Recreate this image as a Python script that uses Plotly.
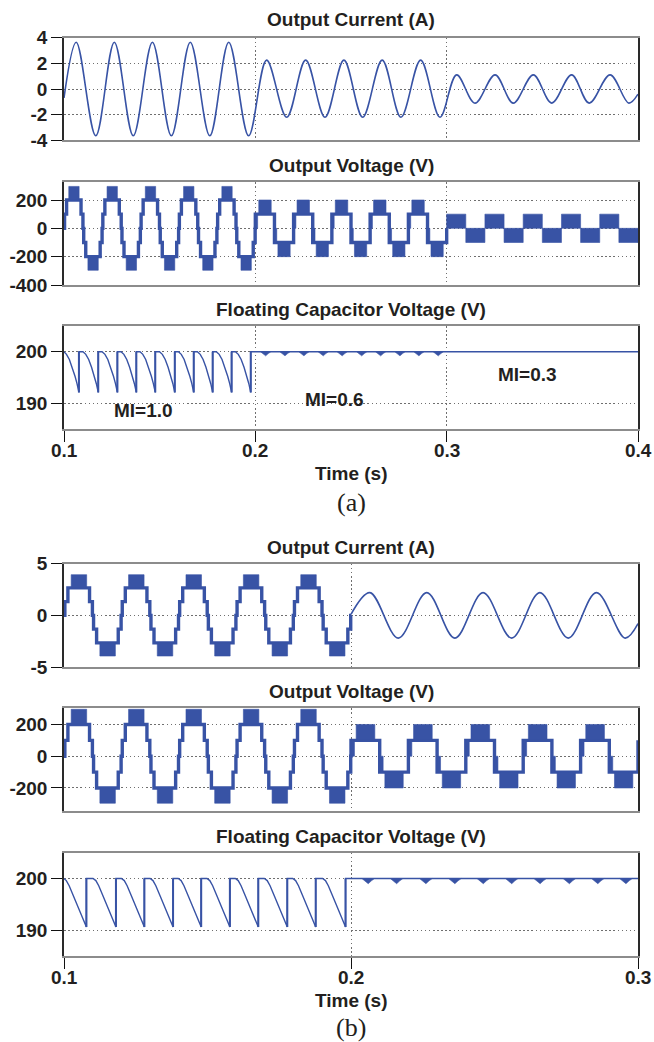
import plotly.graph_objects as go

# ======================= data =======================
# (a) output current: start value, successive extrema, end value (s, A)
cur_a_t = [0.1000, 0.1064, 0.1166, 0.1263, 0.1362, 0.1462, 0.1561, 0.1660, 0.1762,
           0.1861, 0.1965, 0.2059, 0.2164, 0.2263, 0.2364, 0.2463, 0.2561, 0.2663,
           0.2761, 0.2864, 0.2965, 0.3052, 0.3148, 0.3253, 0.3348, 0.3453, 0.3549,
           0.3653, 0.3745, 0.3854, 0.3952, 0.4000]
cur_a_v = [-0.7, 3.65, -3.65, 3.65, -3.65, 3.65, -3.65, 3.65, -3.65, 3.65, -3.65,
           2.25, -2.2, 2.25, -2.2, 2.25, -2.2, 2.25, -2.2, 2.25, -2.2,
           1.1, -1.1, 1.1, -1.1, 1.1, -1.1, 1.1, -1.1, 1.1, -1.1, -0.4]

# (b) output current after 0.2 s (sinusoidal part): start, extrema, end
cur_b_t = [0.2000, 0.2066, 0.2165, 0.2264, 0.2362, 0.2460, 0.2560, 0.2658,
           0.2757, 0.2855, 0.2955, 0.3000]
cur_b_v = [0.1, 2.2, -2.2, 2.2, -2.2, 2.2, -2.2, 2.2, -2.2, 2.2, -2.2, -0.8]

# multilevel staircase patterns (phase within one 20 ms cycle, level in steps)
cycle_period = 0.02
full_step_phase = [0.000, 0.015, 0.068, 0.445, 0.495, 0.515, 0.568, 0.945, 0.995]
full_step_level = [0, 1, 2, 1, 0, -1, -2, -1, 0]
full_blk_start = [0.125, 0.625]
full_blk_end = [0.395, 0.895]
full_blk_low = [2.0, -2.96]
full_blk_high = [2.96, -2.0]

mid_step_phase = [0.0, 0.5]
mid_step_level = [1, -1]
mid_blk_start = [0.0, 0.09, 0.5, 0.59]
mid_blk_end = [0.06, 0.415, 0.56, 0.91]
mid_blk_low = [0.0, 1.0, -1.0, -2.0]
mid_blk_high = [1.0, 2.0, 0.0, -1.0]

low_blk_start = [0.0, 0.5]
low_blk_end = [0.5, 1.0]
low_blk_low = [0.0, -1.0]
low_blk_high = [1.0, 0.0]

cyc_a_full = [0.10, 0.12, 0.14, 0.16, 0.18]
cyc_a_mid = [0.20, 0.22, 0.24, 0.26, 0.28]
cyc_a_low = [0.30, 0.32, 0.34, 0.36, 0.38]
cyc_b_full = [0.10, 0.12, 0.14, 0.16, 0.18]
cyc_b_mid = [0.20, 0.22, 0.24, 0.26, 0.28]
volt_step = 100.0   # V per level
cur_b_step = 1.33   # A per level

# floating capacitor voltage
dip_spacing = 0.01
cap_a_dip_t = [0.1078, 0.1179, 0.1279, 0.1378, 0.1477, 0.1579, 0.1678, 0.1777, 0.1876, 0.1976]
cap_a_shape_frac = [0.0, 0.2, 0.35, 0.5, 0.65, 0.8, 0.9, 1.0]
cap_a_shape_v = [200, 200, 199.5, 198.5, 197.0, 195.2, 193.8, 192.1]
cap_a_ripple_t = [0.2054, 0.2155, 0.2254, 0.2355, 0.2454, 0.2556, 0.2655, 0.2756, 0.2855, 0.2956]
cap_a_ripple_min = 199.2
cap_a_ripple_halfw = 0.0027

cap_b_dip_t = [0.1078, 0.1181, 0.1280, 0.1380, 0.1478, 0.1578, 0.1677, 0.1778, 0.1877, 0.1981]
cap_b_shape_frac = [0.0, 0.2, 0.3, 0.4, 0.55, 0.7, 0.85, 1.0]
cap_b_shape_v = [200, 200, 199.6, 198.6, 196.6, 194.6, 192.6, 190.6]
cap_b_ripple_t = [0.2060, 0.2159, 0.2261, 0.2362, 0.2461, 0.2560, 0.2659, 0.2761, 0.2860, 0.2958]
cap_b_ripple_min = 199.0
cap_b_ripple_halfw = 0.0022
ripple_off = [-1.0, -0.5, 0.0, 0.5, 1.0]
ripple_frac = [0.0, 0.45, 1.0, 0.45, 0.0]

# axis ticks
ya1_ticks = [4, 2, 0, -2, -4]
ya2_ticks = [200, 0, -200, -400]
ya3_ticks = [200, 190]
yb1_ticks = [5, 0, -5]
yb2_ticks = [200, 0, -200]
yb3_ticks = [200, 190]
xa_ticks = [0.1, 0.2, 0.3, 0.4]
xb_ticks = [0.1, 0.2, 0.3]

# ============================ helpers ======================================
W, H = 654, 1042
BLUE = '#3853a5'
TXT = '#231f20'
FONT = 'Liberation Sans, Arial, sans-serif'
FS = 19


def PX(x):
    return x / W


def PY(y):
    return 1 - y / H


def steps(cycles, phase, level, unit):
    xs, ys = [], []
    for c in cycles:
        for p, l in zip(phase, level):
            xs.append(c + p * cycle_period)
            ys.append(l * unit)
    return xs, ys


def blocks(cycles, bs, be, bl, bh, unit):
    xs, ys = [], []
    for c in cycles:
        for s, e, lo, hi in zip(bs, be, bl, bh):
            x0, x1 = c + s * cycle_period, c + e * cycle_period
            xs += [x0, x1, x1, x0, x0, None]
            ys += [lo * unit, lo * unit, hi * unit, hi * unit, lo * unit, None]
    return xs, ys


def cap_line(dips, frac, vals, t0, t_end):
    xs, ys = [t0], [200.0]
    for td in dips:
        for f, v in zip(frac, vals):
            t = td - (1 - f) * dip_spacing
            if t > xs[-1]:
                xs.append(t)
                ys.append(v)
        xs.append(td)
        ys.append(200.0)
    xs.append(t_end)
    ys.append(200.0)
    return xs, ys


def recov(dips, vmin):
    xs, ys = [], []
    for td in dips:
        xs += [td, td, None]
        ys += [vmin, 200.0, None]
    return xs, ys


def ripples(centers, vmin, halfw):
    xs, ys = [], []
    for c in centers:
        for o, f in zip(ripple_off, ripple_frac):
            xs.append(c + o * halfw)
            ys.append(200.0 - f * (200.0 - vmin))
        xs.append(None)
        ys.append(None)
    return xs, ys


fig = go.Figure()


def add_line(x, y, ax, width, shape='linear'):
    fig.add_trace(go.Scatter(x=x, y=y, mode='lines', xaxis='x' + ax, yaxis='y' + ax,
                             line=dict(color=BLUE, width=width, shape=shape),
                             hoverinfo='skip', showlegend=False))


def add_fill(x, y, ax):
    fig.add_trace(go.Scatter(x=x, y=y, mode='lines', xaxis='x' + ax, yaxis='y' + ax,
                             fill='toself', fillcolor=BLUE,
                             line=dict(color=BLUE, width=0.6),
                             hoverinfo='skip', showlegend=False))


# (a1) current
add_line(cur_a_t, cur_a_v, '', 1.6, 'spline')

# (a2) voltage
sx1, sy1 = steps(cyc_a_full, full_step_phase, full_step_level, volt_step)
sx2, sy2 = steps(cyc_a_mid, mid_step_phase, mid_step_level, volt_step)
add_line(sx1 + sx2 + [0.3], sy1 + sy2 + [0.0], '2', 3.4, 'hv')
bx1, by1 = blocks(cyc_a_full, full_blk_start, full_blk_end, full_blk_low, full_blk_high, volt_step)
bx2, by2 = blocks(cyc_a_mid, mid_blk_start, mid_blk_end, mid_blk_low, mid_blk_high, volt_step)
bx3, by3 = blocks(cyc_a_low, low_blk_start, low_blk_end, low_blk_low, low_blk_high, volt_step)
add_fill(bx1 + bx2 + bx3, by1 + by2 + by3, '2')

# (a3) capacitor
cx, cy = cap_line(cap_a_dip_t, cap_a_shape_frac, cap_a_shape_v, 0.1, 0.4)
add_line(cx, cy, '3', 1.4)
rx, ry = recov(cap_a_dip_t, cap_a_shape_v[-1])
add_line(rx, ry, '3', 2.0)
px_, py_ = ripples(cap_a_ripple_t, cap_a_ripple_min, cap_a_ripple_halfw)
add_fill(px_, py_, '3')

# (b1) current
sx, sy = steps(cyc_b_full, full_step_phase, full_step_level, cur_b_step)
add_line(sx + [0.2], sy + [0.0], '4', 3.4, 'hv')
bx, by = blocks(cyc_b_full, full_blk_start, full_blk_end, full_blk_low, full_blk_high, cur_b_step)
add_fill(bx, by, '4')
add_line(cur_b_t, cur_b_v, '4', 1.6, 'spline')

# (b2) voltage
sx1, sy1 = steps(cyc_b_full, full_step_phase, full_step_level, volt_step)
sx2, sy2 = steps(cyc_b_mid, mid_step_phase, mid_step_level, volt_step)
add_line(sx1 + sx2 + [0.3], sy1 + sy2 + [100.0], '5', 3.4, 'hv')
bx1, by1 = blocks(cyc_b_full, full_blk_start, full_blk_end, full_blk_low, full_blk_high, volt_step)
bx2, by2 = blocks(cyc_b_mid, mid_blk_start, mid_blk_end, mid_blk_low, mid_blk_high, volt_step)
add_fill(bx1 + bx2, by1 + by2, '5')

# (b3) capacitor
cx, cy = cap_line(cap_b_dip_t, cap_b_shape_frac, cap_b_shape_v, 0.1, 0.3)
add_line(cx, cy, '6', 1.4)
rx, ry = recov(cap_b_dip_t, cap_b_shape_v[-1])
add_line(rx, ry, '6', 2.0)
px_, py_ = ripples(cap_b_ripple_t, cap_b_ripple_min, cap_b_ripple_halfw)
add_fill(px_, py_, '6')

# ============================ layout =======================================
XDOM = [PX(64), PX(638)]
panels = [
    # key, top px, bottom px, y range, y ticks, x range, x ticks, bottom?
    ('', 37.7, 140.3, [-4, 4], ya1_ticks, [0.1, 0.4], xa_ticks, False),
    ('2', 182.3, 285.0, [-400, 325], ya2_ticks, [0.1, 0.4], xa_ticks, False),
    ('3', 326.0, 429.0, [185, 205], ya3_ticks, [0.1, 0.4], xa_ticks, True),
    ('4', 563.7, 667.0, [-5, 5], yb1_ticks, [0.1, 0.3], xb_ticks, False),
    ('5', 708.3, 811.0, [-345, 302], yb2_ticks, [0.1, 0.3], xb_ticks, False),
    ('6', 852.7, 956.0, [185, 205], yb3_ticks, [0.1, 0.3], xb_ticks, True),
]
GRID = dict(showgrid=True, gridcolor='#6f6f6f', gridwidth=1, griddash='1.5px,2.6px')
lay = {}
for key, top, bot, yr, yt, xr, xt, is_bottom in panels:
    xa = dict(domain=XDOM, range=xr, anchor='y' + key, tickvals=xt, automargin=False,
              showticklabels=False,
              ticks='outside' if is_bottom else '', ticklen=11, tickwidth=1.4,
              tickcolor='#111', showline=True, mirror=True, linecolor='#8c8c8c',
              linewidth=2, zeroline=False, **GRID)
    ya = dict(domain=[PY(bot), PY(top)], range=yr, anchor='x' + key, tickvals=yt,
              automargin=False,
              ticktext=[str(v) for v in yt], ticks='outside', ticklen=11, tickwidth=1.4,
              tickcolor='#111', showline=True, mirror=True, linecolor='#2a2a2a',
              linewidth=1.5, zeroline=False,
              tickfont=dict(family=FONT, size=FS, color=TXT, weight='bold'), **GRID)
    lay['xaxis' + key] = xa
    lay['yaxis' + key] = ya

ann = []


def text(x, y, s, size=FS, family=FONT, bold=True):
    ann.append(dict(x=PX(x), y=PY(y), xref='paper', yref='paper', showarrow=False,
                    xanchor='center', yanchor='middle',
                    text=('<b>%s</b>' % s) if bold else s,
                    font=dict(family=family, size=size, color=TXT)))


def xlabels(ticks, axref, ypx):
    for v in ticks:
        ann.append(dict(x=v, y=PY(ypx), xref=axref, yref='paper', showarrow=False,
                        xanchor='center', yanchor='middle', text='<b>%g</b>' % v,
                        font=dict(family=FONT, size=FS, color=TXT)))


text(351, 20, 'Output Current (A)')
text(351, 165, 'Output Voltage (V)')
text(351, 309, 'Floating Capacitor Voltage (V)')
text(143, 410.7, 'MI=1.0')
text(334, 399, 'MI=0.6')
text(527, 374.5, 'MI=0.3')
xlabels(xa_ticks, 'x3', 450)
text(351, 474, 'Time (s)')
text(351, 502, '(a)', size=26, family='Liberation Serif, Times New Roman, serif', bold=False)
text(351, 547, 'Output Current (A)')
text(351, 691, 'Output Voltage (V)')
text(351, 836, 'Floating Capacitor Voltage (V)')
xlabels(xb_ticks, 'x6', 977)
text(351, 1000, 'Time (s)')
text(351, 1027, '(b)', size=26, family='Liberation Serif, Times New Roman, serif', bold=False)

fig.update_layout(template='none', width=W, height=H, autosize=False,
                  margin=dict(l=0, r=0, t=0, b=0, pad=0, autoexpand=False),
                  paper_bgcolor='white', plot_bgcolor='white',
                  showlegend=False, annotations=ann, **lay)

fig.write_html('out.html', config={'displayModeBar': False},
               post_script="document.body.style.margin='0';")
